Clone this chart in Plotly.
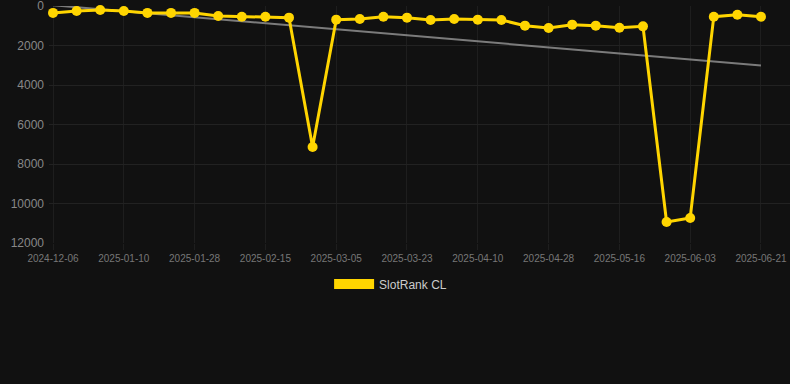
import numpy as np
import plotly.graph_objects as go

dates = [
    "2024-12-06", "2024-12-18", "2024-12-29",
    "2025-01-10", "2025-01-16", "2025-01-22",
    "2025-01-28", "2025-02-03", "2025-02-09",
    "2025-02-15", "2025-02-21", "2025-02-27",
    "2025-03-05", "2025-03-11", "2025-03-17",
    "2025-03-23", "2025-03-29", "2025-04-04",
    "2025-04-10", "2025-04-16", "2025-04-22",
    "2025-04-28", "2025-05-04", "2025-05-10",
    "2025-05-16", "2025-05-22", "2025-05-28",
    "2025-06-03", "2025-06-09", "2025-06-15",
    "2025-06-21",
]
ranks = [
    350, 253, 200, 250, 350, 350, 350, 506, 540, 540, 590,
    7140, 690, 658, 540, 590, 710, 658, 690, 710,
    995, 1114, 945, 995, 1097, 1030, 10937, 10734,
    540, 440, 540,
]
tick_labels = dates[::3]
y_ticks = [0, 2000, 4000, 6000, 8000, 10000, 12000]

idx = np.arange(len(ranks))
slope, intercept = np.polyfit(idx, ranks, 1)
trend = slope * idx + intercept

GOLD = "#FFD500"
fig = go.Figure()
fig.add_trace(go.Scatter(
    x=idx, y=trend, mode="lines",
    line=dict(color="rgba(150,150,150,0.8)", width=2),
    showlegend=False, hoverinfo="skip", cliponaxis=False,
))
fig.add_trace(go.Scatter(
    x=idx, y=ranks, mode="lines+markers",
    line=dict(color=GOLD, width=3),
    marker=dict(color=GOLD, size=10),
    showlegend=False, cliponaxis=False,
))
fig.add_trace(go.Scatter(
    x=[None], y=[None], mode="lines",
    line=dict(color=GOLD, width=12),
    name="SlotRank CL", showlegend=True,
))

fig.update_layout(
    width=790, height=384,
    paper_bgcolor="#111111", plot_bgcolor="#111111",
    margin=dict(l=49, r=0, t=6, b=141),
    font=dict(family="Liberation Sans, Arial, sans-serif", color="#888888"),
    xaxis=dict(
        range=[-0.17, 31.23],
        tickmode="array", tickvals=idx[::3].tolist(), ticktext=tick_labels,
        tickfont=dict(size=10, color="#777777"),
        showgrid=True, gridcolor="#1e1e1e", gridwidth=1,
        zeroline=False, showline=False,
        ticks="outside", ticklen=6, tickcolor="#1e1e1e",
        ticklabeloverflow="allow",
    ),
    yaxis=dict(
        range=[12000, 0],
        tickmode="array", tickvals=y_ticks, ticktext=[str(v) for v in y_ticks],
        tickfont=dict(size=12, color="#888888"),
        showgrid=True, gridcolor="#222222", gridwidth=1,
        zeroline=False, showline=False,
        ticks="", ticklabelstandoff=4,
        ticklabeloverflow="allow",
    ),
    legend=dict(
        orientation="h", x=0.461, xanchor="center", y=-0.173, yanchor="middle",
        font=dict(size=12, color="#cccccc"),
        bgcolor="rgba(0,0,0,0)", itemwidth=40,
    ),
    showlegend=True,
)

fig.write_html(
    "out.html",
    config={"displayModeBar": False},
    post_script="document.body.style.margin='0px';document.body.style.overflow='hidden';",
)
